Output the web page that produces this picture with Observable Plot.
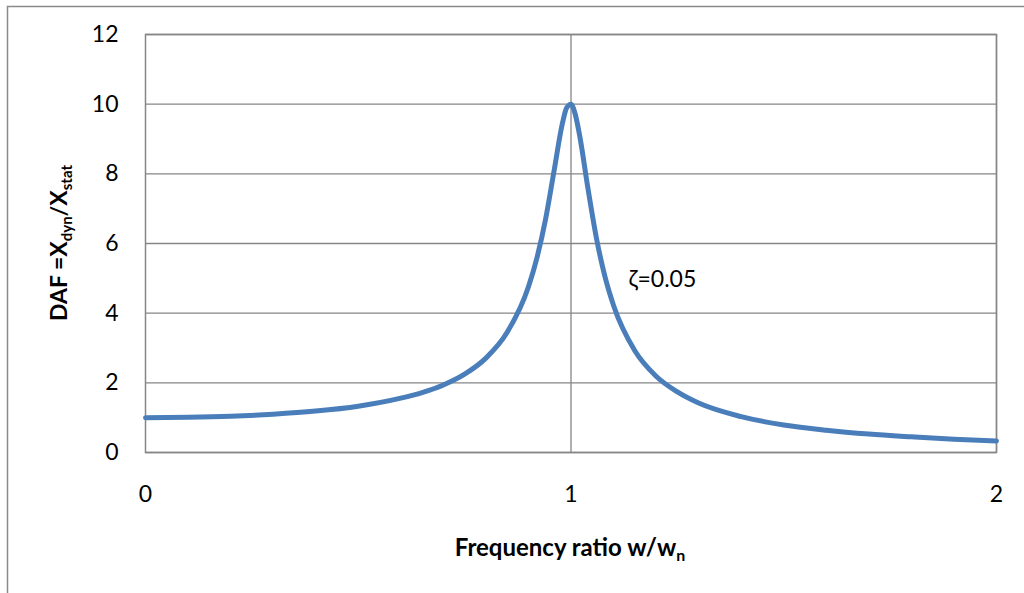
<!DOCTYPE html>
<html>
<head>
<meta charset="utf-8">
<script src="https://cdn.jsdelivr.net/npm/d3@7"></script>
<script src="https://cdn.jsdelivr.net/npm/@observablehq/plot@0.6"></script>
<style>
  html, body { margin: 0; padding: 0; background: #fff; }
  #chart svg { display: block; }
</style>
</head>
<body>
<div id="chart"></div>
<script>
// Frequency ratio values (x) and dynamic amplification factor (y)
const ratio = [0, 0.1, 0.2, 0.3, 0.4, 0.5, 0.6, 0.65, 0.7, 0.75, 0.8, 0.85, 0.9, 0.92, 0.94, 0.96, 0.98, 0.99, 1.0,
               1.01, 1.02, 1.04, 1.06, 1.08, 1.1, 1.15, 1.2, 1.25, 1.3, 1.4, 1.5, 1.6, 1.7, 1.8, 1.9, 2.0];
const daf = [1.00, 1.01, 1.04, 1.10, 1.19, 1.33, 1.56, 1.72, 1.94, 2.25, 2.71, 3.45, 4.76, 5.59, 6.68, 8.07, 9.46, 9.90, 10.0,
             9.71, 9.12, 7.57, 6.14, 5.04, 4.22, 2.92, 2.19, 1.74, 1.42, 1.03, 0.79, 0.64, 0.53, 0.45, 0.38, 0.33];
const yTicks = [0, 2, 4, 6, 8, 10, 12];
const xTicks = [0, 1, 2];
const xGrid = [1, 2];
const annotation = [{x: 1.135, y: 4.95, text: "ζ=0.05"}];

const data = ratio.map((r, i) => ({r, d: daf[i]}));

const font = "Lato, 'Open Sans', sans-serif";
const gridColor = "#868686";

const chart = Plot.plot({
  width: 1024,
  height: 593,
  marginLeft: 145,
  marginRight: 28,
  marginTop: 34,
  marginBottom: 141,
  style: {fontFamily: font, fontSize: "23px", color: "#000", background: "#fff"},
  x: {domain: [0, 2]},
  y: {domain: [0, 12]},
  marks: [
    Plot.ruleY(yTicks, {stroke: gridColor, strokeWidth: 1.3, strokeOpacity: 1}),
    Plot.ruleX(xGrid, {stroke: gridColor, strokeWidth: 1.3, strokeOpacity: 1}),
    Plot.frame({stroke: gridColor, strokeWidth: 1.5}),
    Plot.axisY(yTicks, {tickSize: 0, tickPadding: 27, label: null, fontSize: 23, tickFormat: d3.format("d")}),
    Plot.axisX(xTicks, {tickSize: 0, tickPadding: 33, label: null, fontSize: 23, tickFormat: d3.format("d")}),
    Plot.line(data, {x: "r", y: "d", stroke: "#4a7ebb", strokeWidth: 5, curve: "monotone-x"}),
    Plot.text(annotation, {x: "x", y: "y", text: "text", textAnchor: "start", fontSize: 23})
  ]
});

document.getElementById("chart").appendChild(chart);

const svg = d3.select(chart);
// outer chart border
svg.insert("rect", ":first-child")
  .attr("x", 7.5).attr("y", 6.5).attr("width", 1040).attr("height", 620)
  .attr("fill", "none").attr("stroke", "#8a8a8a").attr("stroke-width", 1.5);

// x axis title
const xt = svg.append("text")
  .attr("x", 570).attr("y", 556)
  .attr("text-anchor", "middle")
  .attr("font-family", font).attr("font-size", 24).attr("font-weight", "bold").attr("fill", "#000");
xt.append("tspan").text("Frequency ratio w/w");
xt.append("tspan").attr("font-size", 16).attr("dy", 5).text("n");

// y axis title
const yt = svg.append("text")
  .attr("transform", "translate(67,243) rotate(-90)")
  .attr("text-anchor", "middle")
  .attr("font-family", font).attr("font-size", 23).attr("font-weight", "bold").attr("fill", "#000");
yt.append("tspan").text("DAF =X");
yt.append("tspan").attr("font-size", 15).attr("dy", 5).text("dyn");
yt.append("tspan").attr("dy", -5).text("/X");
yt.append("tspan").attr("font-size", 15).attr("dy", 5).text("stat");
</script>
</body>
</html>
